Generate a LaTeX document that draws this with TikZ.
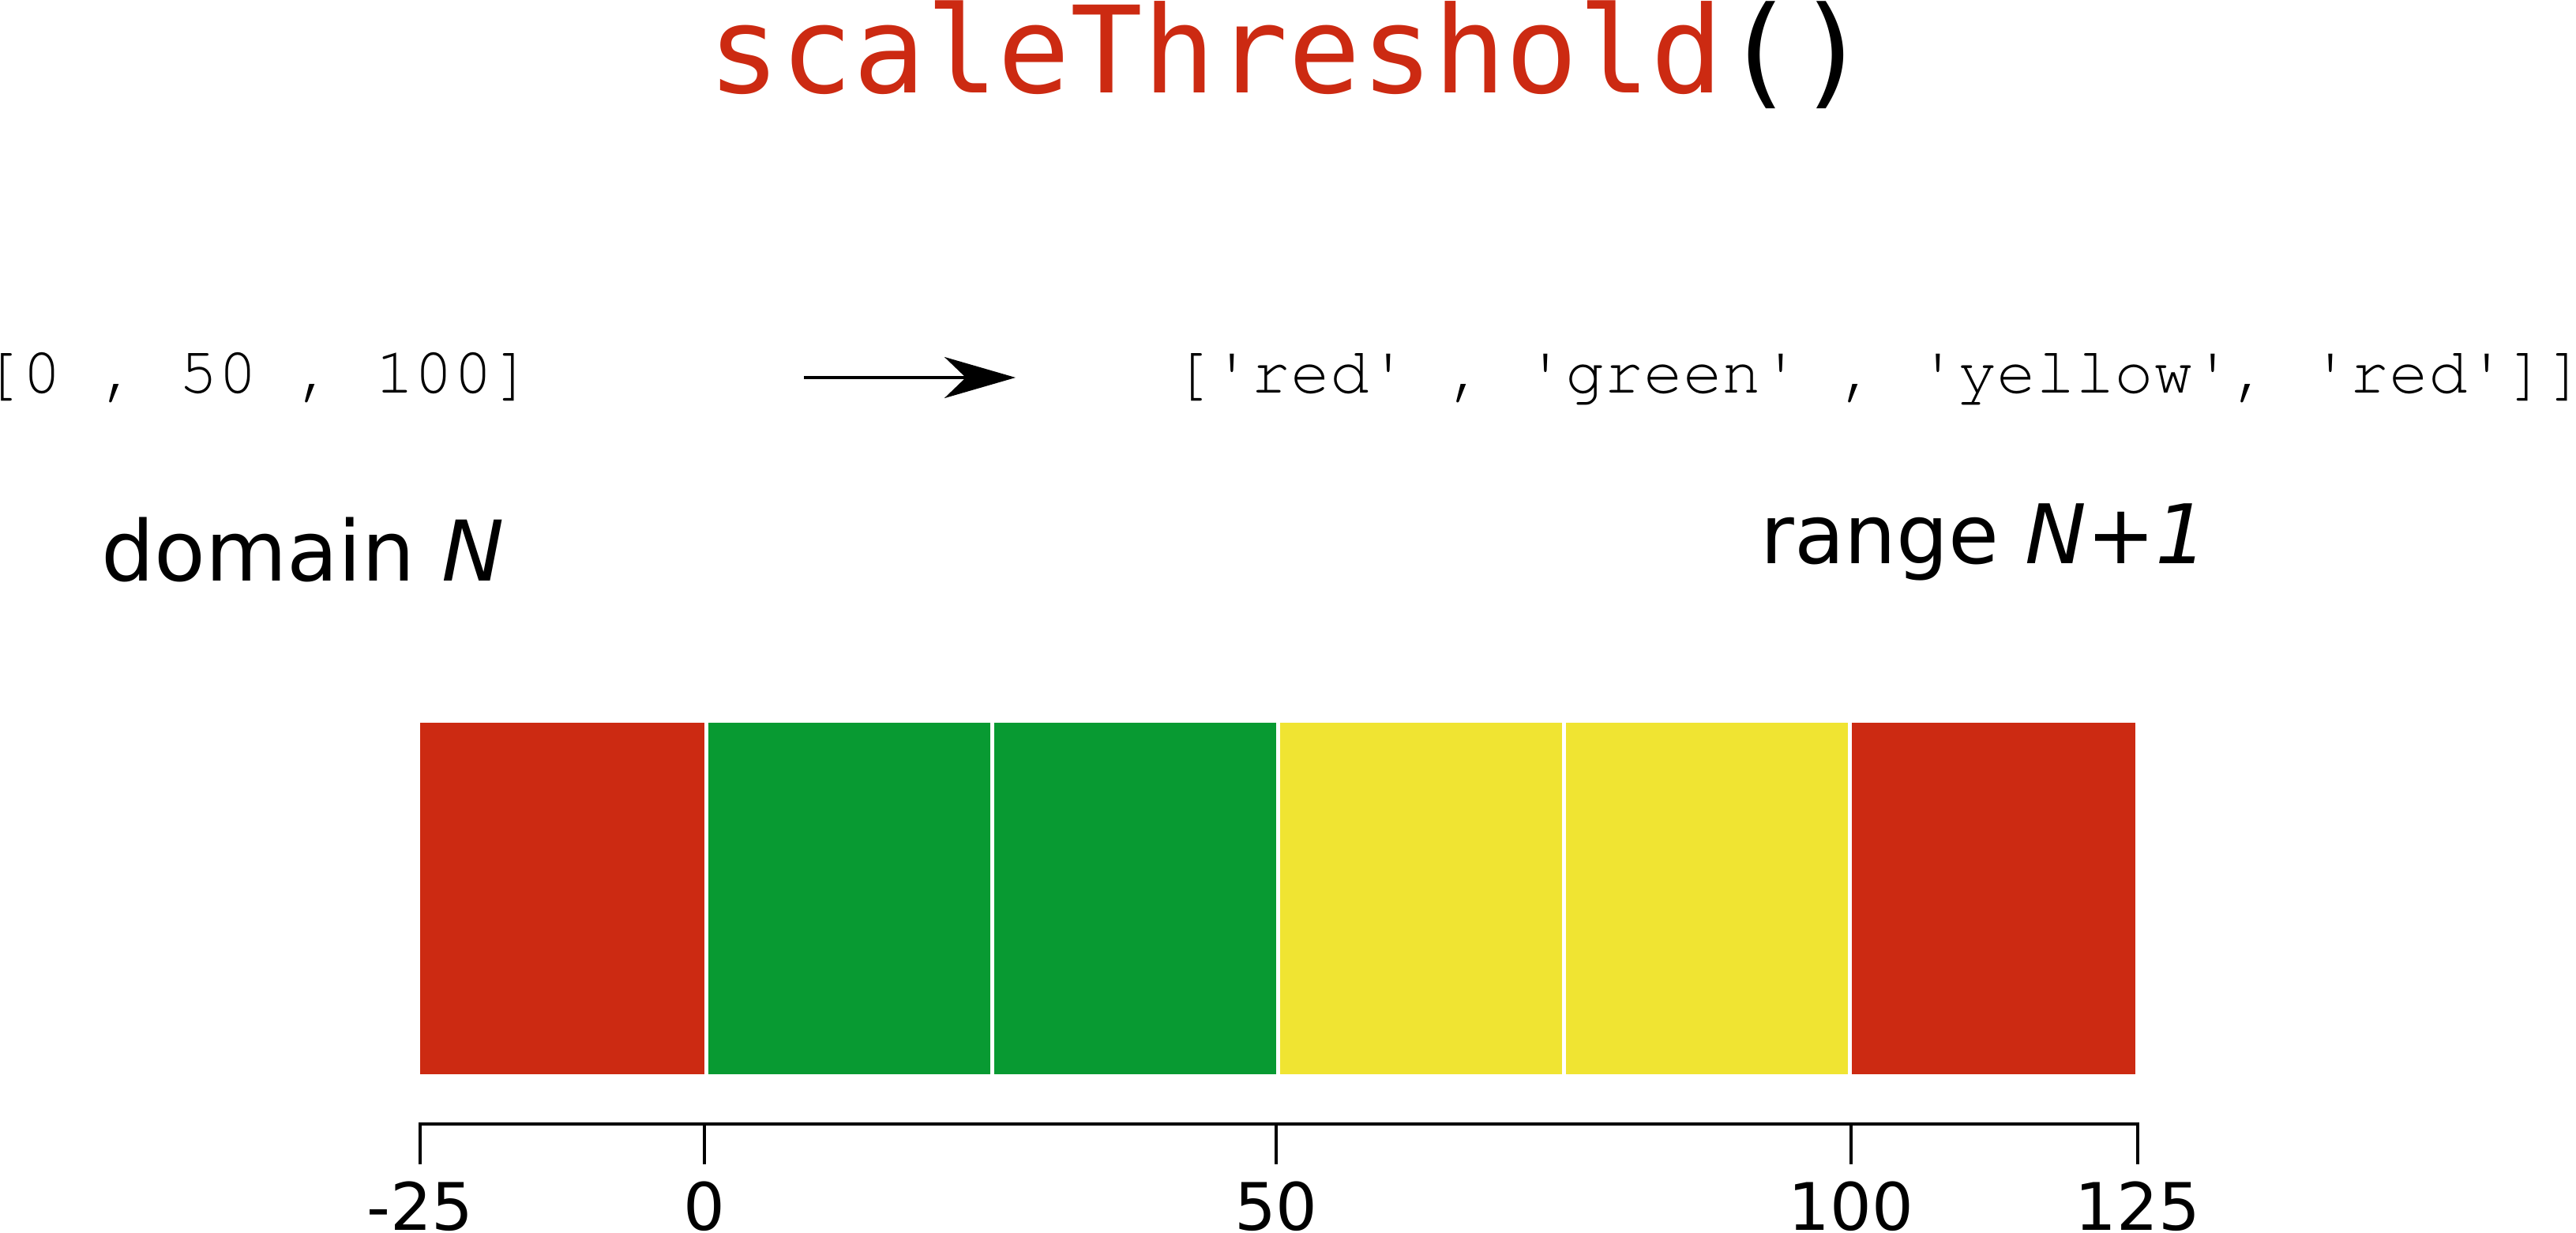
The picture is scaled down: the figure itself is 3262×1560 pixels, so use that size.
\documentclass[tikz,border=0pt]{standalone}
\usepackage{fontspec}
\usetikzlibrary{arrows.meta}
\newfontfamily\dvsans{DejaVu Sans}
\newfontfamily\dvmono{DejaVu Sans Mono}
\newfontfamily\courf[Ligatures=TeXOff]{TeX Gyre Cursor}
\definecolor{barred}{RGB}{204,42,18}
\definecolor{bargreen}{RGB}{8,154,50}
\definecolor{baryellow}{RGB}{240,228,50}
\tikzset{
  titletext/.style={anchor=base west, inner sep=0pt, font={\dvmono\fontsize{76.3pt}{80pt}\selectfont}},
  codetext/.style={anchor=base west, inner sep=0pt, font={\courf\fontsize{41.4pt}{44pt}\selectfont}},
  labeltext/.style={anchor=base west, inner sep=0pt, font={\dvsans\fontsize{#1}{#1}\selectfont}},
  ticklabel/.style={anchor=base, inner sep=0pt, font={\dvsans\fontsize{41.5pt}{44pt}\selectfont}},
  maparrow/.style={line width=2pt, -{Stealth[length=45pt, width=26pt, inset=13.5pt]}},
  sep/.style={white, line width=2.5pt},
  axisline/.style={line width=2.2pt, line join=miter},
}
\begin{document}
\begin{tikzpicture}[x=0.5pt, y=-0.5pt]
\useasboundingbox (0,0) rectangle (3262,1560);
% title
\node[titletext] (title) at (896,117) {\textcolor{barred}{scaleThreshold}()};
% domain / range lists
\node[codetext] (dom) at (-22,497) {[0 , 50 , 100]};
\node[codetext] (rng) at (1485,497) {['red' , 'green' , 'yellow', 'red']]};
\coordinate (a0) at (1018,478);
\coordinate (a1) at (1286,478);
\draw[maparrow] (a0) -- (a1);
% labels
\node[labeltext=53pt] (domlab) at (128,735) {domain \textit{N}};
\node[labeltext=52pt] (rnglab) at (2229,713) {range \textit{N+1}};
% colour bar
\fill[barred]     (532,915)  rectangle (894,1360);
\fill[bargreen]   (894,915)  rectangle (1256,1360);
\fill[bargreen]   (1256,915) rectangle (1618,1360);
\fill[baryellow]  (1618,915) rectangle (1980,1360);
\fill[baryellow]  (1980,915) rectangle (2342,1360);
\fill[barred]     (2342,915) rectangle (2704,1360);
\foreach \bx in {894,1256,1618,1980,2342}
  \draw[sep] (\bx,915) -- (\bx,1360);
% axis
\coordinate (t0) at (532,1423);
\coordinate (t1) at (892,1423);
\coordinate (t2) at (1616,1423);
\coordinate (t3) at (2344,1423);
\coordinate (t4) at (2707,1423);
\draw[axisline] ([yshift=-25.5pt]t0) -- (t0) -- (t4) -- ([yshift=-25.5pt]t4);
\foreach \t in {t1,t2,t3}
  \draw[axisline] (\t) -- ([yshift=-25.5pt]\t);
\node[ticklabel] (l0) at (532,1557) {-25};
\node[ticklabel] (l1) at (892,1557) {0};
\node[ticklabel] (l2) at (1616,1557) {50};
\node[ticklabel] (l3) at (2344,1557) {100};
\node[ticklabel] (l4) at (2707,1557) {125};
\end{tikzpicture}
\end{document}
